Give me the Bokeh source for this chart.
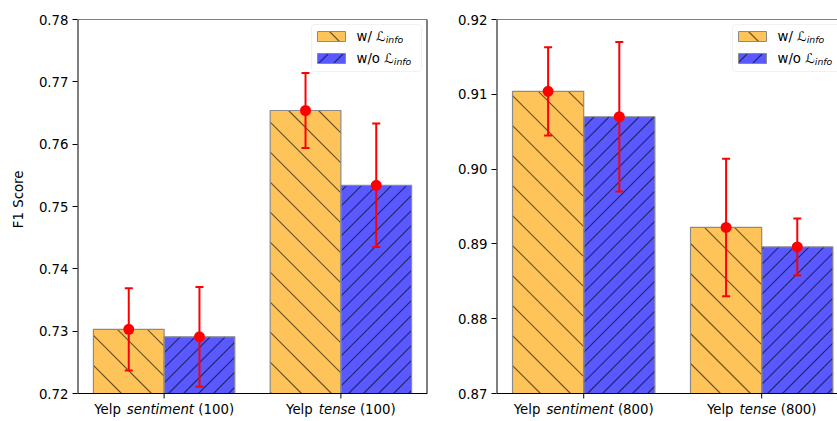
import math
from bokeh.plotting import figure
from bokeh.models import (Range1d, FixedTicker, NumeralTickFormatter, Label,
                          BoxAnnotation, Span)
from bokeh.layouts import row
from bokeh.embed import file_html
from bokeh.resources import INLINE

# ---------------- data ----------------
categories = ["sentiment", "tense"]
left_size = "100"
right_size = "800"

left_with = [0.7303, 0.7654]
left_with_err = [0.0066, 0.0060]
left_without = [0.7291, 0.7534]
left_without_err = [0.0080, 0.0099]

right_with = [0.9104, 0.8922]
right_with_err = [0.0059, 0.0092]
right_without = [0.9070, 0.8896]
right_without_err = [0.0100, 0.0038]

left_yticks = [0.72, 0.73, 0.74, 0.75, 0.76, 0.77, 0.78]
right_yticks = [0.87, 0.88, 0.89, 0.90, 0.91, 0.92]

series_labels = ["w/ ", "w/o "]
y_label = "F1 Score"

# ---------------- style ----------------
FONT = "DejaVu Sans"
FS = 13.3
ORANGE = "#FFC459"
BLUE = "#5959FF"
EDGE = "#8a8a8a"
RED = "#FF0000"
HATCH = dict(line_color="black", line_alpha=0.6, line_width=1.1)
TOP, FH, EXT = 19, 374, 28      # frame top border, axes height, label strip
XSTART = -0.49
BAR_W = 0.4
SP_W, SP_B = 30, 15             # hatch spacing (px) for the two series

# DejaVu Sans advance widths (em)
W = {" ": .318, "(": .390, ")": .390, ".": .318, "/": .337, "Y": .611, "e": .615,
     "l": .278, "p": .635, "s": .521, "n": .634, "t": .392, "i": .278, "m": .974,
     "w": .818, "o": .612, "f": .352}
for d in "0123456789":
    W[d] = .636


def tw(s, size=FS):
    return sum(W.get(c, .6) for c in s) * size


def hatch_px(xl, xr, yt, yb, s, back):
    """45-degree hatch lines clipped to a pixel rectangle (y grows downward)."""
    out = []
    if back:   # x - y = c
        lo, hi = xl - yb, xr - yt
    else:      # x + y = c
        lo, hi = xl + yt, xr + yb
    for k in range(math.floor(lo / s), math.ceil(hi / s) + 1):
        c = k * s
        if back:
            a, b = max(xl, yt + c), min(xr, yb + c)
            if b > a:
                out.append((a, a - c, b, b - c))
        else:
            a, b = max(xl, c - yb), min(xr, c - yt)
            if b > a:
                out.append((a, c - a, b, c - b))
    return out


def make_panel(size, w, werr, wo, woerr, yticks, xend, bl, fw, br, ylabel,
               full_box, leg_left):
    y0, y1 = yticks[0], yticks[-1]
    ppy = FH / (y1 - y0)
    ppx = fw / (xend - XSTART)
    ybot = y0 - EXT / ppy
    p = figure(frame_width=fw, frame_height=FH + EXT, min_border_left=bl,
               min_border_right=br, min_border_top=TOP, min_border_bottom=0,
               x_range=Range1d(XSTART, xend), y_range=Range1d(ybot, y1),
               toolbar_location=None, output_backend="svg")
    p.grid.visible = False
    p.background_fill_color = "white"
    p.border_fill_color = "white"
    p.outline_line_color = None
    p.xaxis.visible = False

    def dx(px):
        return XSTART + px / ppx

    def dy(py):
        return y1 - py / ppy

    def px_x(x):
        return (x - XSTART) * ppx

    def px_y(y):
        return (y1 - y) * ppy

    def hatch_data(rects, s, back):
        x0, y0_, x1, y1_ = [], [], [], []
        for (l, r, t, b) in rects:
            for a, ay, bb, by in hatch_px(l, r, t, b, s, back):
                x0.append(dx(a)); y0_.append(dy(ay))
                x1.append(dx(bb)); y1_.append(dy(by))
        return dict(x0=x0, y0=y0_, x1=x1, y1=y1_)

    xs = list(range(len(categories)))
    xw = [x - BAR_W / 2 for x in xs]
    xo = [x + BAR_W / 2 for x in xs]
    p.vbar(x=xw, width=BAR_W, top=w, bottom=y0, fill_color=ORANGE,
           line_color=None)
    p.vbar(x=xo, width=BAR_W, top=wo, bottom=y0, fill_color=BLUE,
           line_color=None)
    rect_w = [(px_x(x - BAR_W / 2), px_x(x + BAR_W / 2), px_y(v), px_y(y0))
              for x, v in zip(xw, w)]
    rect_o = [(px_x(x - BAR_W / 2), px_x(x + BAR_W / 2), px_y(v), px_y(y0))
              for x, v in zip(xo, wo)]
    p.segment(**hatch_data(rect_w, SP_W, True), **HATCH)
    p.segment(**hatch_data(rect_o, SP_B, False), **HATCH)
    p.vbar(x=xw, width=BAR_W, top=w, bottom=y0, fill_color=None,
           line_color=EDGE, line_width=1.2)
    p.vbar(x=xo, width=BAR_W, top=wo, bottom=y0, fill_color=None,
           line_color=EDGE, line_width=1.2)

    # spines
    p.add_layout(Span(location=y1, dimension="width", line_color="black",
                      line_width=1))
    p.add_layout(Span(location=y0, dimension="width", line_color="black",
                      line_width=1))
    p.segment(x0=[XSTART], y0=[y0], x1=[XSTART], y1=[y1], line_color="black",
              line_width=2)
    if full_box:
        p.segment(x0=[xend], y0=[y0], x1=[xend], y1=[y1], line_color="black",
                  line_width=2)
    # x ticks
    p.segment(x0=xs, y0=[y0] * len(xs), x1=xs, y1=[y0 - 5 / ppy] * len(xs),
              line_color="black", line_width=1)

    for xx, vals, errs in ((xw, w, werr), (xo, wo, woerr)):
        lo = [v - e for v, e in zip(vals, errs)]
        hi = [v + e for v, e in zip(vals, errs)]
        p.segment(x0=xx, y0=lo, x1=xx, y1=hi, line_color=RED, line_width=2)
        p.scatter(x=xx, y=lo, marker="dash", size=8, line_color=RED, line_width=2)
        p.scatter(x=xx, y=hi, marker="dash", size=8, line_color=RED, line_width=2)
        p.scatter(x=xx, y=vals, marker="circle", size=11, fill_color=RED,
                  line_color=None)

    # y axis
    ax = p.yaxis[0]
    ax.axis_line_color = None
    ax.major_tick_line_color = "black"
    ax.major_tick_out = 5
    ax.major_tick_in = 0
    ax.minor_tick_out = 0
    ax.minor_tick_in = 0
    ax.major_label_text_font = FONT
    ax.major_label_text_font_size = f"{FS}px"
    ax.major_label_text_color = "black"
    ax.major_label_standoff = 4
    ax.ticker = FixedTicker(ticks=yticks)
    ax.formatter = NumeralTickFormatter(format="0.00")
    if ylabel:
        ax.axis_label = "\u00a0" * 10 + ylabel
        ax.axis_label_text_font = FONT
        ax.axis_label_text_font_size = f"{FS}px"
        ax.axis_label_text_font_style = "normal"
        ax.axis_label_text_color = "black"
        ax.axis_label_standoff = 10

    # category labels with italic part (gaps handled as offsets)
    for i, cat in enumerate(categories):
        pieces = [("Yelp", "normal"), (cat, "italic"), (f"({size})", "normal")]
        sp = tw(" ")
        total = sum(tw(t) for t, _ in pieces) + 2 * sp
        off = -total / 2
        for t, st in pieces:
            p.add_layout(Label(x=xs[i], y=y0, x_offset=off, y_offset=-8, text=t,
                               text_font=FONT, text_font_size=f"{FS}px",
                               text_font_style=st, text_baseline="top",
                               text_align="left", text_color="black"))
            off += tw(t) + sp

    # legend
    p.add_layout(BoxAnnotation(left=dx(leg_left), right=dx(leg_left + 110),
                               top=dy(5), bottom=dy(52), fill_color="white",
                               fill_alpha=0.85, line_color="#d0d0d0",
                               line_width=1, border_radius=3))
    rows = [(17, ORANGE, True, SP_W), (39, BLUE, False, SP_B)]
    for (cy, col, back, hs), lab in zip(rows, series_labels):
        l, r, t, b = leg_left + 6, leg_left + 34, cy - 5, cy + 5
        p.quad(left=[dx(l)], right=[dx(r)], top=[dy(t)], bottom=[dy(b)],
               fill_color=col, line_color=None, level="overlay")
        p.segment(**hatch_data([(l, r, t, b)], hs, back), **HATCH,
                  level="overlay")
        p.quad(left=[dx(l)], right=[dx(r)], top=[dy(t)], bottom=[dy(b)],
               fill_color=None, line_color=EDGE, line_width=1, level="overlay")
        p.add_layout(Label(x=dx(leg_left + 45), y=dy(cy), text=lab + "\u2112",
                           text_font=FONT, text_font_size=f"{FS}px",
                           text_baseline="middle", text_align="left",
                           text_color="black"))
        p.add_layout(Label(x=dx(leg_left + 45), y=dy(cy),
                           x_offset=tw(lab) + 0.72 * FS, y_offset=-3,
                           text="info", text_font=FONT, text_font_size="9.3px",
                           text_font_style="italic", text_baseline="middle",
                           text_align="left", text_color="black"))
    return p


left = make_panel(left_size, left_with, left_with_err, left_without,
                  left_without_err, left_yticks, 1.49, 77, 350, 10, y_label,
                  True, 234)
right = make_panel(right_size, right_with, right_with_err, right_without,
                   right_without_err, right_yticks, 1.426, 59, 341, 0, None,
                   False, 236)

layout = row(left, right)
open("out.html", "w").write(file_html(layout, INLINE))
